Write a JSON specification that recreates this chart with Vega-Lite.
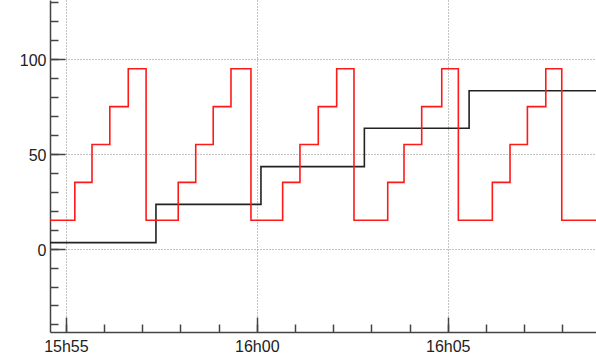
{
  "width": 546,
  "height": 332,
  "autosize": "none",
  "padding": {"left": 50, "top": 0, "right": 0, "bottom": 22},
  "background": "white",
  "config": {
    "view": {"stroke": null},
    "axis": {
      "title": null,
      "labelFont": "Liberation Sans",
      "labelFontSize": 16,
      "labelColor": "#222",
      "tickColor": "#444",
      "tickWidth": 1.5,
      "domainColor": "#444",
      "domainWidth": 1.5,
      "gridColor": "#888",
      "gridDash": [1, 2],
      "gridWidth": 1
    }
  },
  "data": {
    "values": [
      {"t": "2020-01-01T15:54:35", "v": 3.2, "s": "black"},
      {"t": "2020-01-01T15:57:21.500", "v": 23.4, "s": "black"},
      {"t": "2020-01-01T16:00:06.500", "v": 43.3, "s": "black"},
      {"t": "2020-01-01T16:02:49", "v": 63.6, "s": "black"},
      {"t": "2020-01-01T16:05:33.600", "v": 83.4, "s": "black"},
      {"t": "2020-01-01T16:08:53", "v": 83.4, "s": "black"},
      {"t": "2020-01-01T15:54:35", "v": 15, "s": "red"},
      {"t": "2020-01-01T15:55:14", "v": 35, "s": "red"},
      {"t": "2020-01-01T15:55:41", "v": 55, "s": "red"},
      {"t": "2020-01-01T15:56:09", "v": 75, "s": "red"},
      {"t": "2020-01-01T15:56:38", "v": 95, "s": "red"},
      {"t": "2020-01-01T15:57:06", "v": 15, "s": "red"},
      {"t": "2020-01-01T15:57:56.500", "v": 35, "s": "red"},
      {"t": "2020-01-01T15:58:24", "v": 55, "s": "red"},
      {"t": "2020-01-01T15:58:51.500", "v": 75, "s": "red"},
      {"t": "2020-01-01T15:59:19.400", "v": 95, "s": "red"},
      {"t": "2020-01-01T15:59:50.800", "v": 15, "s": "red"},
      {"t": "2020-01-01T16:00:40.600", "v": 35, "s": "red"},
      {"t": "2020-01-01T16:01:07.800", "v": 55, "s": "red"},
      {"t": "2020-01-01T16:01:36.600", "v": 75, "s": "red"},
      {"t": "2020-01-01T16:02:05.500", "v": 95, "s": "red"},
      {"t": "2020-01-01T16:02:32.700", "v": 15, "s": "red"},
      {"t": "2020-01-01T16:03:25.700", "v": 35, "s": "red"},
      {"t": "2020-01-01T16:03:51.300", "v": 55, "s": "red"},
      {"t": "2020-01-01T16:04:19.100", "v": 75, "s": "red"},
      {"t": "2020-01-01T16:04:50.600", "v": 95, "s": "red"},
      {"t": "2020-01-01T16:05:16.700", "v": 15, "s": "red"},
      {"t": "2020-01-01T16:06:10.100", "v": 35, "s": "red"},
      {"t": "2020-01-01T16:06:37.900", "v": 55, "s": "red"},
      {"t": "2020-01-01T16:07:05.200", "v": 75, "s": "red"},
      {"t": "2020-01-01T16:07:34.100", "v": 95, "s": "red"},
      {"t": "2020-01-01T16:07:59.200", "v": 15, "s": "red"},
      {"t": "2020-01-01T16:08:53", "v": 15, "s": "red"}
    ]
  },
  "resolve": {"axis": {"x": "independent", "y": "independent"}},
  "layer": [
    {
      "mark": {"type": "line", "interpolate": "step-after", "strokeWidth": 1.6, "clip": true},
      "encoding": {
        "x": {
          "field": "t",
          "type": "temporal",
          "scale": {"domain": ["2020-01-01T15:54:35", "2020-01-01T16:08:53"]},
          "axis": {"orient": "bottom", "tickCount": 15, "labels": false, "grid": false, "tickSize": -8, "domain": true}
        },
        "y": {
          "field": "v",
          "type": "quantitative",
          "scale": {"domain": [-44, 131.3], "nice": false, "zero": false},
          "axis": {
            "orient": "left",
            "values": [-40, -30, -20, -10, 0, 10, 20, 30, 40, 50, 60, 70, 80, 90, 100, 110, 120, 130],
            "labels": false, "grid": false, "tickSize": -8, "domain": true
          }
        },
        "color": {
          "field": "s",
          "type": "nominal",
          "scale": {"domain": ["black", "red"], "range": ["#222222", "#ff1a1a"]},
          "legend": null
        }
      }
    },
    {
      "mark": {"type": "line", "interpolate": "step-after", "strokeWidth": 1.6, "clip": true, "opacity": 0},
      "encoding": {
        "x": {
          "field": "t",
          "type": "temporal",
          "axis": {
            "orient": "bottom",
            "tickCount": 3,
            "format": "%Hh%M",
            "labelFlush": false,
            "labelOverlap": false,
            "labelPadding": 21,
            "tickSize": -15,
            "grid": true,
            "domain": false
          }
        },
        "y": {
          "field": "v",
          "type": "quantitative",
          "axis": {
            "orient": "left",
            "values": [0, 50, 100],
            "labelOverlap": false,
            "labelPadding": 19,
            "labelOffset": 1.5,
            "tickSize": -15,
            "grid": true,
            "domain": false
          }
        },
        "color": {"field": "s", "type": "nominal", "legend": null}
      }
    }
  ]
}
